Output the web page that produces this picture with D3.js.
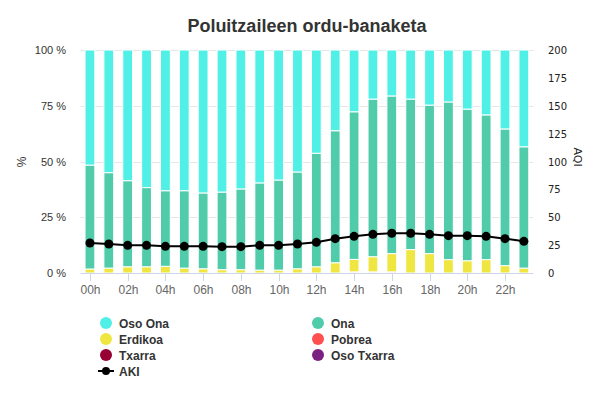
<!DOCTYPE html>
<html>
<head>
<meta charset="utf-8">
<script src="https://cdn.jsdelivr.net/npm/d3@7"></script>
<style>
  body { margin: 0; background: #fff; }
  svg { display: block; }
</style>
</head>
<body>
<div id="chart"></div>
<script>
// datuak (ehunekoak orduko)
var hours = ["00h","01h","02h","03h","04h","05h","06h","07h","08h","09h","10h","11h",
             "12h","13h","14h","15h","16h","17h","18h","19h","20h","21h","22h","23h"];
var osoOna   = [51.6,55,58.6,61.7,63.1,63.1,64.1,63.7,62.3,59.6,58.3,54.7,46.3,36.2,27.7,22,20.6,22,24.7,23.3,26.5,29.1,35.4,43.4];
var ona      = [46.6,42.8,38.6,35.5,33.9,34.7,34.0,34.8,36.2,39.1,40.4,43.4,50.9,59.2,66.2,70.7,70.7,67.5,66.6,70.7,68.0,64.9,61.3,54.4];
var erdikoa  = [1.8,2.2,2.8,2.8,3,2.2,1.9,1.5,1.5,1.3,1.3,1.9,2.8,4.6,5.6,6.8,8.2,10.5,8.7,6,5.5,6,3.3,2.2];
var pobrea   = [0,0,0,0,0,0,0,0,0,0,0,0,0,0,0.5,0.5,0.5,0,0,0,0,0,0,0];
var txarra   = [0,0,0,0,0,0,0,0,0,0,0,0,0,0,0,0,0,0,0,0,0,0,0,0];
var osoTxarra= [0,0,0,0,0,0,0,0,0,0,0,0,0,0,0,0,0,0,0,0,0,0,0,0];
var aki      = [26.9,26,24.8,24.8,23.9,23.9,23.9,23.6,23.6,24.8,24.8,26,27.5,30.8,32.9,34.7,35.6,35.6,34.7,33.5,33.5,32.9,30.8,28.4];

var pctTicks = [0,25,50,75,100];
var aqiTicks = [0,25,50,75,100,125,150,175,200];

var series = [
    {key: "osoTxarra", name: "Oso Txarra", color: "#7d2181", values: osoTxarra},
    {key: "txarra",    name: "Txarra",     color: "#960032", values: txarra},
    {key: "pobrea",    name: "Pobrea",     color: "#ff5050", values: pobrea},
    {key: "erdikoa",   name: "Erdikoa",    color: "#f0e641", values: erdikoa},
    {key: "ona",       name: "Ona",        color: "#50ccaa", values: ona},
    {key: "osoOna",    name: "Oso Ona",    color: "#50f0e6", values: osoOna}
];

var width = 601, height = 399;
var pLeft = 80.5, pRight = 533.3, pTop = 50, pBottom = 273;

var svg = d3.select("#chart").append("svg")
    .attr("width", width)
    .attr("height", height)
    .style("font-family", "'Liberation Sans', Arial, sans-serif");

// taula stack-erako
var rows = hours.map(function(h, i) {
    var r = {hour: h};
    series.forEach(function(s) { r[s.key] = s.values[i]; });
    return r;
});
// behetik gora: oso txarra behean
var stack = d3.stack().keys(series.map(function(s) { return s.key; }));
var layers = stack(rows);

var x = d3.scaleBand().domain(hours).range([pLeft, pRight]).paddingInner(0.48).paddingOuter(0.24);
var y = d3.scaleLinear().domain([0, 100]).range([pBottom, pTop]);
var y2 = d3.scaleLinear().domain([0, 200]).range([pBottom, pTop]);

// titulua
svg.append("text")
    .attr("x", (pLeft + pRight) / 2)
    .attr("y", 32)
    .attr("text-anchor", "middle")
    .attr("font-size", 18)
    .attr("font-weight", "bold")
    .attr("fill", "#333")
    .text("Poluitzaileen ordu-banaketa");

// grid
svg.append("g").selectAll("line")
    .data(pctTicks.slice(1))
    .enter().append("line")
    .attr("x1", pLeft).attr("x2", pRight)
    .attr("y1", function(d) { return Math.round(y(d)) + 0.5; })
    .attr("y2", function(d) { return Math.round(y(d)) + 0.5; })
    .attr("stroke", "#e6e6e6");

// ezkerreko ardatza
svg.append("g").selectAll("text")
    .data(pctTicks)
    .enter().append("text")
    .attr("x", 66)
    .attr("y", function(d) { return y(d) + 4; })
    .attr("text-anchor", "end")
    .attr("font-size", 11)
    .attr("fill", "#333")
    .text(function(d) { return d + " %"; });

svg.append("text")
    .attr("transform", "translate(26,162) rotate(-90)")
    .attr("text-anchor", "middle")
    .attr("font-size", 12)
    .attr("fill", "#333")
    .text("%");

// eskuineko ardatza
svg.append("g").selectAll("text")
    .data(aqiTicks)
    .enter().append("text")
    .attr("x", 548)
    .attr("y", function(d) { return y2(d) + 4; })
    .attr("text-anchor", "start")
    .attr("font-size", 10)
    .attr("font-family", "'DejaVu Sans', sans-serif")
    .attr("fill", "#222")
    .text(function(d) { return d; });

svg.append("text")
    .attr("transform", "translate(574,157) rotate(90)")
    .attr("text-anchor", "middle")
    .attr("font-size", 11)
    .attr("font-family", "'DejaVu Sans', sans-serif")
    .attr("fill", "#222")
    .text("AQI");

// barrak
var colorOf = {};
series.forEach(function(s) { colorOf[s.key] = s.color; });

svg.append("g").selectAll("g")
    .data(layers)
    .enter().append("g")
    .attr("fill", function(d) { return colorOf[d.key]; })
    .selectAll("rect")
    .data(function(d) { return d.filter(function(v) { return v[1] - v[0] > 0; }); })
    .enter().append("rect")
    .attr("x", function(d) { return x(d.data.hour); })
    .attr("width", x.bandwidth())
    .attr("y", function(d) { return y(d[1]); })
    .attr("height", function(d) { return y(d[0]) - y(d[1]); })
    .attr("stroke", "#fff")
    .attr("stroke-width", 1);

// x ardatza
svg.append("line")
    .attr("x1", pLeft).attr("x2", pRight)
    .attr("y1", pBottom + 0.5).attr("y2", pBottom + 0.5)
    .attr("stroke", "#ccd6eb");

var tickHours = hours.filter(function(h, i) { return i % 2 === 0; });
var xt = svg.append("g").selectAll("g")
    .data(tickHours)
    .enter().append("g")
    .attr("transform", function(d) { return "translate(" + (Math.round(x(d) + x.bandwidth() / 2) + 0.5) + ",0)"; });
xt.append("line")
    .attr("y1", pBottom).attr("y2", pBottom + 8)
    .attr("stroke", "#ccd6eb");
xt.append("text")
    .attr("y", 294)
    .attr("text-anchor", "middle")
    .attr("font-size", 12)
    .attr("fill", "#666")
    .text(function(d) { return d; });

// AKI lerroa
var cx = function(i) { return x(hours[i]) + x.bandwidth() / 2; };
var line = d3.line()
    .x(function(d, i) { return cx(i); })
    .y(function(d) { return y2(d); });

svg.append("path")
    .datum(aki)
    .attr("d", line)
    .attr("fill", "none")
    .attr("stroke", "#000")
    .attr("stroke-width", 2);

svg.append("g").selectAll("circle")
    .data(aki)
    .enter().append("circle")
    .attr("cx", function(d, i) { return cx(i); })
    .attr("cy", function(d) { return y2(d); })
    .attr("r", 4.5)
    .attr("fill", "#000");

// legenda
var legendItems = ["osoOna","ona","erdikoa","pobrea","txarra","osoTxarra"].map(function(k) {
    return series.filter(function(s) { return s.key === k; })[0];
});
var rowY = [323, 339, 355, 371];
var colX = [106, 318];

var lg = svg.append("g").selectAll("g")
    .data(legendItems)
    .enter().append("g")
    .attr("transform", function(d, i) { return "translate(" + colX[i % 2] + "," + rowY[Math.floor(i / 2)] + ")"; });
lg.append("circle")
    .attr("r", 6)
    .attr("fill", function(d) { return d.color; });
lg.append("text")
    .attr("x", 13)
    .attr("y", 4.5)
    .attr("font-size", 12)
    .attr("font-weight", "bold")
    .attr("fill", "#333")
    .text(function(d) { return d.name; });

var akiLg = svg.append("g").attr("transform", "translate(" + colX[0] + "," + rowY[3] + ")");
akiLg.append("line")
    .attr("x1", -8).attr("x2", 8)
    .attr("stroke", "#000").attr("stroke-width", 2);
akiLg.append("circle").attr("r", 4).attr("fill", "#000");
akiLg.append("text")
    .attr("x", 13)
    .attr("y", 4.5)
    .attr("font-size", 12)
    .attr("font-weight", "bold")
    .attr("fill", "#333")
    .text("AKI");
</script>
</body>
</html>
